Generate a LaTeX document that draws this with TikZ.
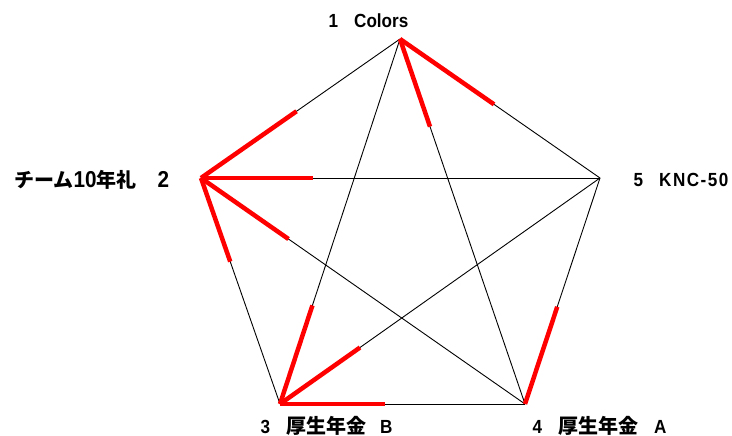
\documentclass[tikz,border=0pt]{standalone}
\usepackage{fontspec}
\usetikzlibrary{calc}
\setmainfont{Liberation Sans}[FakeStretch=0.9]
\newfontfamily\jp{Noto Sans CJK JP Bold}
\newcommand{\gap}{\hspace{16pt}}
\newcommand{\ls}{\hspace{1.5pt}}
\newcommand{\jt}[1]{{\jp\fontsize{20}{22}\selectfont #1}}
\begin{document}
\begin{tikzpicture}[x=1pt,y=-1pt,
  edge/.style={black,line width=0.9pt},
  hl/.style={red,line width=4.5pt},
  lbl/.style={font=\fontsize{19}{22}\selectfont\bfseries,inner sep=0pt},
  biglbl/.style={font=\fontsize{23}{26}\selectfont\bfseries,inner sep=0pt}]
\useasboundingbox (0,0) rectangle (732,436);
\coordinate (v1) at (400,39);
\coordinate (v2) at (201,178);
\coordinate (v3) at (280,404);
\coordinate (v4) at (525,404);
\coordinate (v5) at (600,178);
% edges
\foreach \a/\b in {v1/v2,v1/v3,v1/v4,v1/v5,v2/v3,v2/v4,v2/v5,v3/v4,v3/v5,v4/v5}
  \draw[edge] (\a) -- (\b);
% highlights
\draw[hl] (v1) -- ($(v1)!0.47!(v5)$);
\draw[hl] (v1) -- ($(v1)!0.24!(v4)$);
\draw[hl] (v2) -- ($(v2)!0.48!(v1)$);
\draw[hl] (v2) -- ($(v2)!0.28!(v5)$);
\draw[hl] (v2) -- ($(v2)!0.27!(v4)$);
\draw[hl] (v2) -- ($(v2)!0.37!(v3)$);
\draw[hl] (v3) -- ($(v3)!0.27!(v1)$);
\draw[hl] (v3) -- ($(v3)!0.25!(v5)$);
\draw[hl] (v3) -- ($(v3)!0.43!(v4)$);
\draw[hl] (v4) -- ($(v4)!0.43!(v5)$);
% labels
\node[lbl,anchor=base west] (l1) at (328.5,28) {1\gap Colors};
\node[biglbl,anchor=base west] (l2) at (14,187) {\jt{チーム}10\jt{年礼}\hspace{21pt}2};
\node[lbl,anchor=base west] (l5) at (633.5,186) {5\gap K\ls N\ls C\ls -\ls 5\ls 0};
\node[lbl,anchor=base west] (l3) at (260.5,433) {3\gap\jt{厚生年金}\hspace{14pt}B};
\node[lbl,anchor=base west] (l4) at (532.5,433) {4\gap\jt{厚生年金}\hspace{16pt}A};
\end{tikzpicture}
\end{document}
